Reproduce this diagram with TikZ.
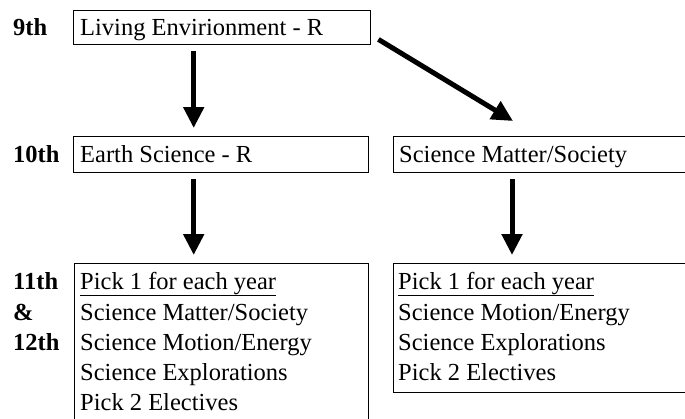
\documentclass[tikz,border=0pt]{standalone}
\usepackage{fontspec}
\setmainfont{Liberation Serif}
\usetikzlibrary{arrows.meta}
\begin{document}
\begin{tikzpicture}[x=1pt,y=-1pt,
  box/.style={draw=black, line width=1.4pt, anchor=north west, inner sep=0pt},
  txt/.style={anchor=base west, inner sep=0pt, font=\fontsize{24.5}{30}\selectfont},
  lab/.style={anchor=base west, inner sep=0pt, font=\fontsize{24.5}{30}\selectfont\bfseries},
  arr/.style={line width=5pt, -{Triangle[width=20pt,length=21pt]}}
]
\useasboundingbox (0,0) rectangle (685,418);
% boxes
\node[box, minimum width=297pt, minimum height=34pt] (b1) at (73,10) {};
\node[box, minimum width=295pt, minimum height=36pt] (b2) at (73,136) {};
\node[box, minimum width=297pt, minimum height=36pt] (b3) at (393,136) {};
\node[box, minimum width=294pt, minimum height=170pt] (b4) at (74,263) {};
\node[box, minimum width=297pt, minimum height=129pt] (b5) at (393,263) {};
% year labels
\node[lab] (l9) at (13,35) {9th};
\node[lab] (l10) at (13,162) {10th};
\node[lab] (l11) at (13,289) {11th};
\node[lab] (lamp) at (13,320) {\&};
\node[lab] (l12) at (13,350) {12th};
% box texts
\node[txt] (t1) at (80,35) {Living Envirionment - R};
\node[txt] (t2) at (80,162) {Earth Science - R};
\node[txt] (t3) at (399,162) {Science Matter/Society};
\node[txt] (t4a) at (80,289) {\underline{Pick 1 for each year}};
\node[txt] (t4b) at (80,320) {Science Matter/Society};
\node[txt] (t4c) at (80,350) {Science Motion/Energy};
\node[txt] (t4d) at (80,380) {Science Explorations};
\node[txt] (t4e) at (80,410) {Pick 2 Electives};
\node[txt] (t5a) at (398,289) {\underline{Pick 1 for each year}};
\node[txt] (t5b) at (398,320) {Science Motion/Energy};
\node[txt] (t5c) at (398,350) {Science Explorations};
\node[txt] (t5d) at (398,380) {Pick 2 Electives};
% arrows
\draw[arr] ([xshift=-28.5pt,yshift=-6pt]b1.south) -- ([xshift=-27.5pt,yshift=8pt]b2.north);
\draw[arr] ([xshift=7pt,yshift=6pt]b1.south east) -- ([xshift=120pt,yshift=15pt]b3.north west);
\draw[arr] ([xshift=-27.5pt,yshift=-6pt]b2.south) -- ([xshift=-28pt,yshift=8pt]b4.north);
\draw[arr] ([xshift=119pt,yshift=-6pt]b3.south west) -- ([xshift=119pt,yshift=8pt]b5.north west);
\end{tikzpicture}
\end{document}
